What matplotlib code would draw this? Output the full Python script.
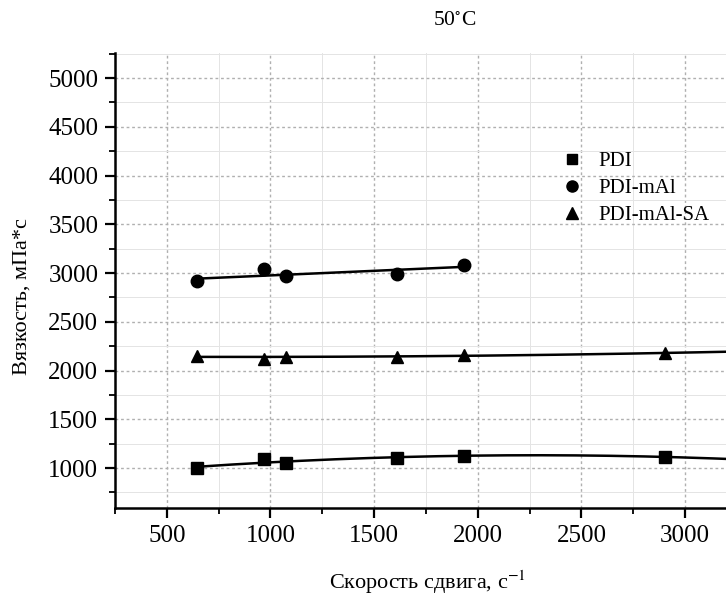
import numpy as np
import matplotlib
matplotlib.use("Agg")
import matplotlib.pyplot as plt
from matplotlib.ticker import MultipleLocator
from matplotlib.lines import Line2D

plt.rcParams['font.family'] = ['Liberation Serif', 'DejaVu Serif']
plt.rcParams['mathtext.fontset'] = 'stix'

# Data
shear_pdi = [645, 970, 1075, 1610, 1935, 2905]
visc_pdi = [1000, 1090, 1050, 1105, 1125, 1115]

shear_mal = [645, 970, 1075, 1610, 1935]
visc_mal = [2915, 3040, 2965, 2990, 3085]

shear_sa = [645, 970, 1075, 1610, 1935, 2905]
visc_sa = [2150, 2122, 2143, 2143, 2160, 2178]

labels = ["PDI", "PDI-mAl", "PDI-mAl-SA"]
title = "50$^{\\circ}$C"
xlabel = "Скорость сдвига, с$^{-1}$"
ylabel = "Вязкость, мПа*с"

W, H = 726, 598
fig = plt.figure(figsize=(7.26, 5.98), dpi=100)
ax = fig.add_axes([115 / W, 1 - 508 / H, 1 - 115 / W, (508 - 53) / H])
ax.set_xlim(250, 3197)
ax.set_ylim(590, 5257)

# fits
xs = np.linspace(shear_pdi[0], 3400, 200)
p = np.polyfit(shear_pdi, visc_pdi, 2)
ax.plot(xs, np.polyval(p, xs), color='black', lw=1.8, zorder=3)
xs2 = np.linspace(shear_sa[0], 3400, 200)
p2 = np.polyfit(shear_sa, visc_sa, 2)
ax.plot(xs2, np.polyval(p2, xs2), color='black', lw=1.8, zorder=3)
xs3 = np.linspace(shear_mal[0], shear_mal[-1], 50)
p3 = np.polyfit(shear_mal, visc_mal, 1)
ax.plot(xs3, np.polyval(p3, xs3), color='black', lw=1.8, zorder=3)

ax.plot(shear_pdi, visc_pdi, 's', color='black', ms=8.5, ls='none', zorder=4)
ax.plot(shear_mal, visc_mal, 'o', color='black', ms=9, ls='none', zorder=4)
ax.plot(shear_sa, visc_sa, '^', color='black', ms=9, ls='none', zorder=4)

ax.xaxis.set_major_locator(MultipleLocator(500))
ax.xaxis.set_minor_locator(MultipleLocator(250))
ax.yaxis.set_major_locator(MultipleLocator(500))
ax.yaxis.set_minor_locator(MultipleLocator(250))

ax.grid(True, which='major', color='#b0b0b0', ls=(0, (2, 2)), lw=1.0, zorder=0)
ax.grid(True, which='minor', color='#e4e4e4', ls='-', lw=0.7, zorder=0)

for s in ['top', 'right']:
    ax.spines[s].set_visible(False)
for s in ['left', 'bottom']:
    ax.spines[s].set_linewidth(1.8)
ax.tick_params(which='major', direction='out', length=7, width=1.6, labelsize=18, pad=5)
ax.tick_params(which='minor', direction='out', length=4.5, width=1.3)

fig.text(428 / W, 1 - 582 / H, xlabel, fontsize=16, ha='center', va='center')
fig.text(22 / W, 1 - 297 / H, ylabel, fontsize=16, ha='center', va='center', rotation=90)
fig.text(455 / W, 1 - 21 / H, title, fontsize=15.5, ha='center', va='center')

handles = [Line2D([], [], marker='s', color='black', ls='none', ms=7.5),
           Line2D([], [], marker='o', color='black', ls='none', ms=8),
           Line2D([], [], marker='^', color='black', ls='none', ms=8)]
leg = ax.legend(handles, labels, loc='center left', bbox_to_anchor=(0.718, 0.703),
                frameon=False, fontsize=15, handletextpad=0.75, labelspacing=0.35,
                handlelength=1.0, borderaxespad=0)

fig.savefig("out.png", dpi=100)
